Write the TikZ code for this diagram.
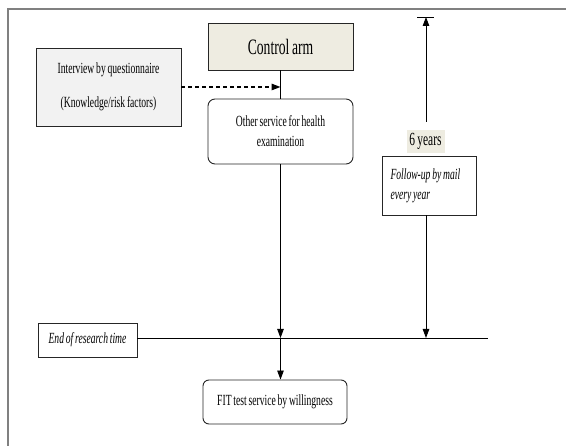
\documentclass[tikz,border=0pt]{standalone}
\usepackage{fontspec}
\setmainfont{Liberation Serif}[FakeStretch=0.62, WordSpace=0.75]
\usetikzlibrary{arrows.meta}
\definecolor{tan}{HTML}{EEECE1}
\definecolor{lightgr}{HTML}{F2F2F2}
\definecolor{framegr}{HTML}{808080}
\tikzset{
  box/.style={draw=black!85, line width=0.9pt, inner sep=0pt, align=center,
    font=\fontsize{15.5}{20}\selectfont},
  rbox/.style={box, rounded corners=7pt},
  arr/.style={line width=0.9pt, -{Triangle[length=9pt,width=6.5pt]}},
  plain/.style={line width=0.9pt}
}
\begin{document}
\begin{tikzpicture}[x=1pt,y=-1pt]
\useasboundingbox (0,0) rectangle (566,446);
\draw[framegr, line width=1.6pt] (8,446) -- (8,9) -- (566,9);

\node[box, fill=tan, minimum width=145, minimum height=47,
  font=\fontsize{22}{26}\selectfont] (control) at (280.5,46.5) {Control arm};
\node[box, fill=lightgr, minimum width=145, minimum height=78,
  font=\fontsize{15.5}{34}\selectfont] (interview) at (108.5,87)
  {Interview by questionnaire\\(Knowledge/risk factors)};
\node[rbox, minimum width=145, minimum height=65] (other) at (280.5,131.5)
  {Other service for health\\examination};
\node[rbox, minimum width=144, minimum height=44, rounded corners=6pt] (fit) at (275,402)
  {FIT test service by willingness};
\node[box, minimum width=99, minimum height=34, font=\fontsize{15.5}{20}\selectfont\itshape]
  (end) at (87.5,340) {End of research time};
\node[inner sep=0pt, fill=tan, minimum width=38, minimum height=23,
  font=\fontsize{18.5}{22}\selectfont] (years) at (425.5,141.5) {6 years};
\node[box, align=flush left, text width=78, inner xsep=8pt, minimum height=59,
  font=\fontsize{15.5}{20}\selectfont\itshape] (follow) at (429.5,185.5)
  {Follow-up by mail\\every year};

\coordinate (top) at (426,17);
\coordinate (cross) at (280.5,338);
\coordinate (lineend) at (488,338);

\draw[plain] ([xshift=-9pt]top) -- ([xshift=8pt]top);
\draw[arr, line width=1.3pt, dash pattern=on 4pt off 3pt] (interview.east) -- (interview.east -| control.south);
\draw[plain] (control.south) -- (other.north);
\draw[plain] (end.east |- cross) -- (lineend);
\draw[arr] (other.south) -- (cross);
\draw[arr] (cross) -- (cross |- fit.north);
\draw[arr, shorten <=8pt] (years.north -| top) -- (top);
\draw[arr] (follow.south -| top) -- (cross -| top);
\end{tikzpicture}
\end{document}
